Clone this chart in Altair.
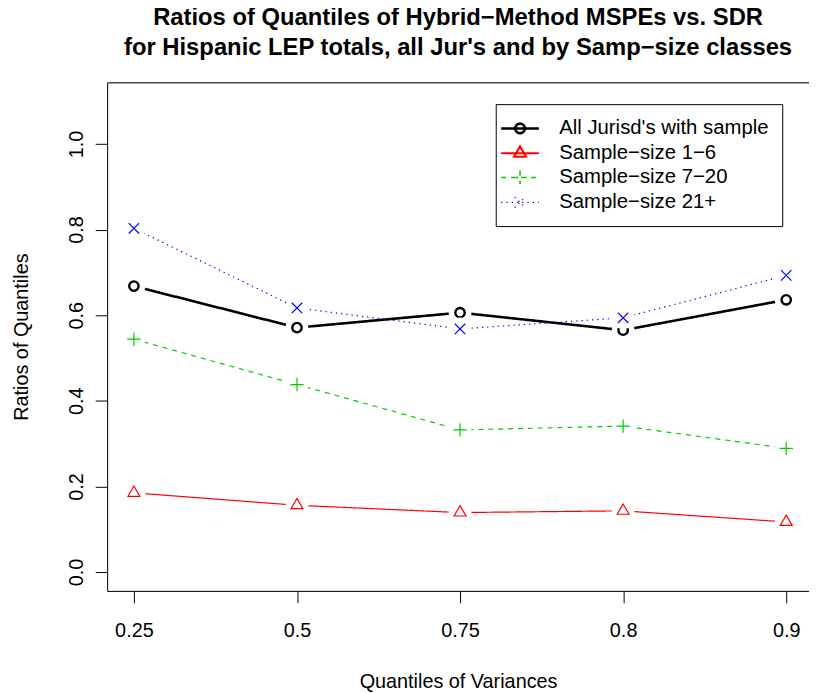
import altair as alt
import pandas as pd

# ---- data ----
quantiles = ["0.25", "0.5", "0.75", "0.8", "0.9"]
series_names = [
    "All Jurisd's with sample",
    "Sample−size 1−6",
    "Sample−size 7−20",
    "Sample−size 21+",
]
all_jur = [0.668, 0.571, 0.606, 0.565, 0.636]
ss_1_6 = [0.185, 0.156, 0.139, 0.143, 0.117]
ss_7_20 = [0.544, 0.438, 0.332, 0.341, 0.289]
ss_21 = [0.803, 0.617, 0.568, 0.594, 0.693]
series_values = [all_jur, ss_1_6, ss_7_20, ss_21]

# ---- styles ----
colors = ["#000000", "#FF0000", "#00CD00", "#0000FF"]
line_widths = [2.6, 1.2, 1.2, 1.2]
marker_widths = [2.4, 1.2, 1.2, 1.2]
dashes = [[1, 0], [1, 0], [5, 5], [1.3, 4]]

# marker paths (unit = 5 px at size 100)
marker_paths = [
    "M-0.95,0A0.95,0.95 0 1,0 0.95,0A0.95,0.95 0 1,0 -0.95,0Z",
    "M0,-1.39L1.2,0.69L-1.2,0.69Z",
    "M-1.35,0H1.35M0,-1.35V1.35",
    "M-1.05,-1.05L1.05,1.05M-1.05,1.05L1.05,-1.05",
]
# legend symbols (unit = 10 px at size 400): line segment + marker
legend_paths = [
    "M-1.9,0H1.9M-0.48,0A0.48,0.48 0 1,0 0.48,0A0.48,0.48 0 1,0 -0.48,0Z",
    "M-1.9,0H1.9M0,-0.69L0.6,0.35L-0.6,0.35Z",
    "M-1.9,0H1.9M-0.67,0H0.67M0,-0.67V0.67",
    "M-1.9,0H1.9M-0.53,-0.53L0.53,0.53M-0.53,0.53L0.53,-0.53",
]

rows = []
for name, vals in zip(series_names, series_values):
    for i, (q, v) in enumerate(zip(quantiles, vals)):
        rows.append({"series": name, "q": q, "pos": i + 1, "value": v})
df = pd.DataFrame(rows)

FONT = "Liberation Sans"
W, H = 708, 513

label_expr = "[" + ",".join("'%s'" % q for q in quantiles) + "][datum.value - 1]"

x_axis = alt.Axis(
    values=list(range(1, len(quantiles) + 1)),
    labelExpr=label_expr,
    title="Quantiles of Variances",
    grid=False, domain=True, domainColor="black", ticks=True, tickColor="black",
    tickSize=12, labelFontSize=20, labelFont=FONT, labelColor="black",
    labelPadding=18, titleFontSize=20, titleFont=FONT, titleFontWeight="normal",
    titleColor="black", titlePadding=31, labelFlush=False,
)
y_axis = alt.Axis(
    values=[0, 0.2, 0.4, 0.6, 0.8, 1.0], format=".1f",
    title="Ratios of Quantiles",
    grid=False, domain=True, domainColor="black", ticks=True, tickColor="black",
    tickSize=12, labelFontSize=20, labelFont=FONT, labelColor="black",
    labelAngle=270, labelPadding=9, titleFontSize=20, titleFont=FONT,
    titleFontWeight="normal", titleColor="black", titlePadding=35,
)
x_scale = alt.Scale(domain=[1 - 27 / 164.5, 1 + (W - 27) / 164.5], nice=False, zero=False)
y_scale = alt.Scale(domain=[-0.044, 1.144], nice=False, zero=False)

def xenc(axis):
    return alt.X("pos:Q", scale=x_scale, axis=axis)

def yenc():
    return alt.Y("value:Q", scale=y_scale, axis=y_axis)

layers = []
first = True
for k, name in enumerate(series_names):
    base = alt.Chart(df).transform_filter(alt.datum.series == name)
    xa = x_axis if first else None
    line = base.mark_line(
        color=colors[k], strokeWidth=line_widths[k], strokeDash=dashes[k]
    ).encode(x=xenc(xa), y=yenc(), order="pos:Q")
    halo = base.mark_point(
        shape="circle", filled=True, size=529, color="white", opacity=1, strokeWidth=0
    ).encode(x=xenc(None), y=yenc())
    pts = base.mark_point(
        shape=marker_paths[k], filled=False, size=100, color=colors[k],
        strokeWidth=marker_widths[k], opacity=1,
    ).encode(x=xenc(None), y=yenc())
    layers += [line, halo, pts]
    first = False

# top border of the box
top = alt.Chart(df).transform_filter("false").mark_point().encode(
    x=alt.X("pos:Q", scale=x_scale,
            axis=alt.Axis(orient="top", labels=False, ticks=False, title=None,
                          domain=True, domainColor="black", grid=False)),
    y=yenc(),
)
layers.append(top)

legend_layer = alt.Chart(df).transform_filter("false").mark_point(
    filled=False, size=400, opacity=1
).encode(
    x=xenc(None), y=yenc(),
    color=alt.Color("series:N", scale=alt.Scale(domain=series_names, range=colors),
                    legend=alt.Legend(
                        title=None, orient="none", legendX=392, legendY=22,
                        labelFontSize=20.5, labelFont=FONT, labelColor="black",
                        symbolSize=400, padding=13, rowPadding=3,
                        labelOffset=28, labelLimit=0,
                        strokeColor="black", fillColor="white",
                        symbolFillColor="transparent",
                    )),
    shape=alt.Shape("series:N", scale=alt.Scale(domain=series_names, range=legend_paths)),
    strokeDash=alt.StrokeDash("series:N", scale=alt.Scale(domain=series_names, range=dashes)),
    strokeWidth=alt.StrokeWidth("series:O", scale=alt.Scale(domain=series_names, range=line_widths)),
)
layers.append(legend_layer)

chart = alt.layer(*layers).resolve_axis(x="independent").properties(
    width=W, height=H,
    autosize=alt.AutoSizeParams(type="none"),
    padding={"left": 100, "top": 72, "right": 0, "bottom": 100},
    title=alt.TitleParams(
        text=[
            "Ratios of Quantiles of Hybrid−Method MSPEs vs. SDR",
            "for Hispanic LEP totals, all Jur's and by Samp−size classes",
        ],
        fontSize=24, fontWeight="bold", font=FONT, color="black",
        anchor="middle", lineHeight=30, offset=23,
    ),
).configure_view(stroke=None).configure(background="white")

chart.save("out.html", embed_options={"renderer": "svg", "actions": False})
